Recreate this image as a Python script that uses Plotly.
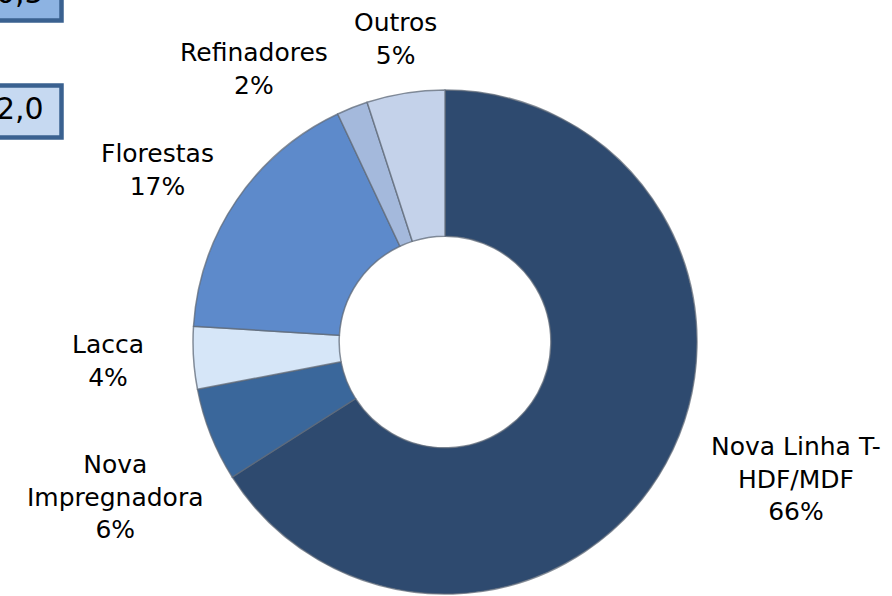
import plotly.graph_objects as go

# ---- data ----
categories = ["Nova Linha T-HDF/MDF", "Nova Impregnadora", "Lacca", "Florestas", "Refinadores", "Outros"]
label_text = ["Nova Linha T-<br>HDF/MDF", "Nova<br>Impregnadora", "Lacca", "Florestas", "Refinadores", "Outros"]
values = [66, 6, 4, 17, 2, 5]
box_values = ["0,5", "2,0"]

# ---- styling / layout ----
W, H = 892, 596
colors = ["#2E4A6F", "#3A679B", "#D6E6F8", "#5D8ACB", "#A4B9DC", "#C4D2EA"]
cx, cy, R = 445, 342, 252
label_pos_px = [(796, 479), (116, 497), (108, 361), (157, 170), (254, 69), (395, 39)]

def px_to_paper(x, y):
    return x / W, 1 - y / H

fig = go.Figure()
fig.add_trace(go.Pie(
    labels=categories,
    values=values,
    sort=False,
    direction="clockwise",
    rotation=0,
    hole=0.42,
    textinfo="none",
    hoverinfo="label+percent",
    marker=dict(colors=colors, line=dict(color="rgba(95,105,120,0.75)", width=1.5)),
    domain=dict(x=[(cx - R) / W, (cx + R) / W], y=[1 - (cy + R) / H, 1 - (cy - R) / H]),
    showlegend=False,
))

total = sum(values)
annotations = []
for txt, v, (lx, ly) in zip(label_text, values, label_pos_px):
    px, py = px_to_paper(lx, ly)
    annotations.append(dict(
        x=px, y=py, xref="paper", yref="paper", xanchor="center", yanchor="middle",
        text=f"{txt}<br>{round(v / total * 100)}%", showarrow=False,
        font=dict(family="DejaVu Sans", size=25, color="#000000"),
    ))

# partial value boxes at top-left
box_rects = [(-10, -20, 61.5, 20.5, "#8DB3E2"), (-10, 85.5, 61.5, 137.5, "#C6D9F1")]
box_text_pos = [(20, -8), (20, 108.5)]
shapes = []
for (x0, y0, x1, y1, fc) in box_rects:
    ax0, ay0 = px_to_paper(x0, y0)
    ax1, ay1 = px_to_paper(x1, y1)
    shapes.append(dict(type="rect", xref="paper", yref="paper", x0=ax0, x1=ax1, y0=ay1, y1=ay0,
                       fillcolor=fc, line=dict(color="#3A6190", width=4.5), layer="above"))
for t, (tx, ty) in zip(box_values, box_text_pos):
    px, py = px_to_paper(tx, ty)
    annotations.append(dict(x=px, y=py, xref="paper", yref="paper", xanchor="center", yanchor="middle",
                            text=t, showarrow=False,
                            font=dict(family="DejaVu Sans", size=30, color="#000000")))

fig.update_layout(
    width=W, height=H,
    margin=dict(l=0, r=0, t=0, b=0),
    paper_bgcolor="white", plot_bgcolor="white",
    annotations=annotations, shapes=shapes,
)

fig.write_html("out.html",
               config={"displayModeBar": False},
               post_script="document.body.style.margin='0';document.body.style.overflow='hidden';")
